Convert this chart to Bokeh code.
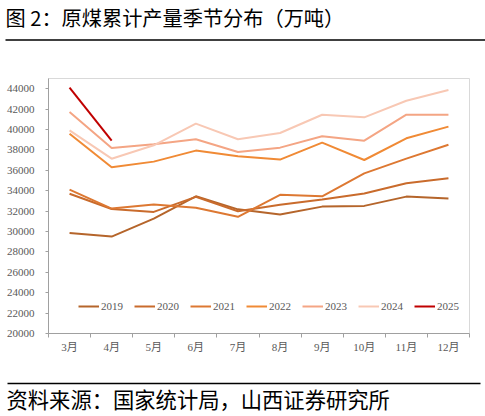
from bokeh.plotting import figure
from bokeh.models import FixedTicker
from bokeh.core.properties import value
from bokeh.embed import file_html
from bokeh.resources import INLINE

# data (monthly raw coal output, 万吨)
months = ["3月", "4月", "5月", "6月", "7月", "8月", "9月", "10月", "11月", "12月"]
y2019 = [29860, 29500, 31270, 33450, 32170, 31660, 32440, 32510, 33420, 33230]
y2020 = [33700, 32200, 31920, 33400, 31980, 32620, 33130, 33720, 34730, 35220]
y2021 = [34100, 32250, 32640, 32330, 31440, 33600, 33450, 35700, 37140, 38510]
y2022 = [39590, 36300, 36850, 37930, 37370, 37050, 38710, 37010, 39140, 40280]
y2023 = [41710, 38190, 38550, 39040, 37800, 38220, 39330, 38900, 41450, 41450]
y2024 = [39920, 37140, 38450, 40570, 39040, 39660, 41450, 41190, 42820, 43870]
y2025 = [44100, 38900]

series = [("2019", y2019, "#B5652B"), ("2020", y2020, "#C96B2C"),
          ("2021", y2021, "#DD7832"), ("2022", y2022, "#F08A35"),
          ("2023", y2023, "#F4A584"), ("2024", y2024, "#F8C8B4"),
          ("2025", y2025, "#C00000")]

CJK = "Noto Sans CJK SC"
TICKFONT = "Liberation Serif, Noto Sans CJK SC"
W = 485


def strip(height):
    # a bare figure whose data units are pixels
    f = figure(width=W, height=height, x_range=(0, W), y_range=(0, height),
               output_backend="svg", toolbar_location=None, min_border=0,
               x_axis_location=None, y_axis_location=None, outline_line_color=None)
    f.grid.visible = False
    return f


# title strip
top = strip(48)
top.text(x=[5], y=[31], text=["图 2：原煤累计产量季节分布（万吨）"], text_font=value(CJK),
         text_font_size="20.2px", text_baseline="middle", text_color="#000000")
top.line(x=[5, W], y=[8.5, 8.5], line_color="#000000", line_width=1.3)

# main chart
x = list(range(len(months)))
p = figure(width=W, height=322, x_range=(-0.5, len(months) - 0.5), y_range=(20000, 45000),
           output_backend="svg", toolbar_location=None,
           min_border_left=48, min_border_right=16, min_border_top=30, min_border_bottom=37)
p.grid.visible = False
p.outline_line_color = "#D9D9D9"

for name, vals, col in series:
    p.line(x=x[:len(vals)], y=vals, line_color=col, line_width=2, legend_label=name)

p.xaxis.ticker = FixedTicker(ticks=x, minor_ticks=[i - 0.5 for i in range(len(months) + 1)])
p.xaxis.major_label_overrides = {i: m for i, m in enumerate(months)}
p.xaxis.major_tick_line_color = None
p.xaxis.major_tick_out = 0
p.xaxis.minor_tick_in = 0
p.xaxis.minor_tick_out = 4
p.xaxis.minor_tick_line_color = "#A0A0A0"
p.xaxis.major_label_standoff = 3

p.yaxis.ticker = FixedTicker(ticks=list(range(20000, 44001, 2000)))
p.yaxis.minor_tick_line_color = None
p.yaxis.major_tick_in = 0
p.yaxis.major_tick_out = 3
p.yaxis.major_tick_line_color = "#A0A0A0"
p.yaxis.major_label_standoff = 11
p.yaxis.formatter.use_scientific = False

for ax in (p.xaxis, p.yaxis):
    ax.axis_line_color = "#A0A0A0"
    ax.major_label_text_font = TICKFONT
    ax.major_label_text_font_size = "11px"
    ax.major_label_text_color = "#595959"

leg = p.legend[0]
leg.orientation = "horizontal"
leg.location = (30, 21)
leg.padding = 0
leg.margin = 0
leg.spacing = 11
leg.glyph_width = 21
leg.glyph_height = 12
leg.label_standoff = 2
leg.label_text_font = TICKFONT
leg.label_text_font_size = "11px"
leg.label_text_color = "#595959"
leg.border_line_color = None
leg.background_fill_alpha = 0

# source strip
bot = strip(46)
bot.line(x=[7, 480], y=[33, 33], line_color="#000000", line_width=1.3)
bot.text(x=[6], y=[18], text=["资料来源：国家统计局，山西证券研究所"], text_font=value(CJK),
         text_font_size="21.3px", text_baseline="middle", text_color="#000000")

# separate roots, so the strips keep their own frames
open("out.html", "w").write(file_html([top, p, bot], INLINE))
